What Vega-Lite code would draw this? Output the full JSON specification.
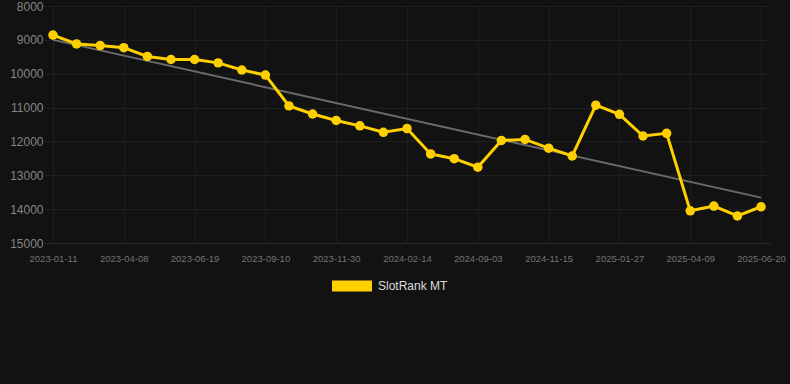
{
  "$schema": "https://vega.github.io/schema/vega-lite/v6.json",
  "autosize": {"type": "none"},
  "width": 726,
  "height": 237,
  "padding": {"left": 44, "top": 6, "right": 20, "bottom": 141},
  "background": "#121212",
  "config": {
    "view": {"stroke": null},
    "font": "Liberation Sans",
    "axis": {"gridColor": "#1e1e1e", "gridWidth": 1, "domain": false, "ticks": false}
  },
  "datasets": {
    "rank": [
      {"date": "2023-01-11", "rank": 8860},
      {"date": "2023-02-11", "rank": 9120},
      {"date": "2023-03-11", "rank": 9170},
      {"date": "2023-04-08", "rank": 9230},
      {"date": "2023-05-02", "rank": 9490},
      {"date": "2023-05-26", "rank": 9580},
      {"date": "2023-06-19", "rank": 9580},
      {"date": "2023-07-16", "rank": 9680},
      {"date": "2023-08-13", "rank": 9890},
      {"date": "2023-09-10", "rank": 10040},
      {"date": "2023-10-07", "rank": 10950},
      {"date": "2023-11-02", "rank": 11190},
      {"date": "2023-11-30", "rank": 11380},
      {"date": "2023-12-25", "rank": 11540},
      {"date": "2024-01-20", "rank": 11730},
      {"date": "2024-02-14", "rank": 11620},
      {"date": "2024-04-15", "rank": 12370},
      {"date": "2024-07-01", "rank": 12510},
      {"date": "2024-09-03", "rank": 12760},
      {"date": "2024-09-27", "rank": 11970},
      {"date": "2024-10-21", "rank": 11940},
      {"date": "2024-11-15", "rank": 12200},
      {"date": "2024-12-10", "rank": 12430},
      {"date": "2025-01-03", "rank": 10930},
      {"date": "2025-01-27", "rank": 11200},
      {"date": "2025-02-20", "rank": 11840},
      {"date": "2025-03-16", "rank": 11760},
      {"date": "2025-04-09", "rank": 14050},
      {"date": "2025-05-03", "rank": 13910},
      {"date": "2025-05-27", "rank": 14200},
      {"date": "2025-06-20", "rank": 13930}
    ],
    "trend": [
      {"date": "2023-01-11", "rank": 9000},
      {"date": "2025-06-20", "rank": 13660}
    ]
  },
  "encoding": {
    "x": {
      "field": "date", "type": "ordinal",
      "scale": {"type": "point", "padding": 0.38, "domain": ["2023-01-11","2023-02-11","2023-03-11","2023-04-08","2023-05-02","2023-05-26","2023-06-19","2023-07-16","2023-08-13","2023-09-10","2023-10-07","2023-11-02","2023-11-30","2023-12-25","2024-01-20","2024-02-14","2024-04-15","2024-07-01","2024-09-03","2024-09-27","2024-10-21","2024-11-15","2024-12-10","2025-01-03","2025-01-27","2025-02-20","2025-03-16","2025-04-09","2025-05-03","2025-05-27","2025-06-20"]},
      "sort": null,
      "axis": {
        "title": null,
        "labelAngle": 0,
        "values": ["2023-01-11", "2023-04-08", "2023-06-19", "2023-09-10", "2023-11-30", "2024-02-14", "2024-09-03", "2024-11-15", "2025-01-27", "2025-04-09", "2025-06-20"],
        "labelColor": "#727272",
        "labelFontSize": 9.5,
        "labelPadding": 10,
        "grid": true
      }
    },
    "y": {
      "field": "rank", "type": "quantitative",
      "scale": {"domain": [8000, 15000], "reverse": true, "nice": false},
      "axis": {
        "title": null,
        "format": "d",
        "values": [8000, 9000, 10000, 11000, 12000, 13000, 14000, 15000],
        "labelColor": "#858585",
        "labelFontSize": 12,
        "labelPadding": 1,
        "grid": true,
        "gridColor": {"condition": {"test": "datum.value === 15000", "value": "#2a2a2a"}, "value": "#1e1e1e"}
      }
    }
  },
  "layer": [
    {
      "data": {"name": "trend"},
      "mark": {"type": "line", "color": "#6b6b6b", "strokeWidth": 2},
      "encoding": {}
    },
    {
      "data": {"name": "rank"},
      "mark": {"type": "line", "strokeWidth": 3},
      "encoding": {
        "color": {"datum": "SlotRank MT", "type": "nominal", "scale": {"domain": ["SlotRank MT"], "range": ["#FFD000"]},
          "legend": {
            "title": null,
            "orient": "none",
            "legendX": 288,
            "legendY": 260,
            "symbolType": "M-1,-0.275L1,-0.275L1,0.275L-1,0.275Z",
            "symbolSize": 1600,
            "symbolStrokeWidth": 0,
            "symbolOpacity": 1,
            "labelColor": "#dddddd",
            "labelFontSize": 12,
            "labelOffset": 6,
            "padding": 0,
            "encode": {"symbols": {"update": {"fill": {"value": "#FFD000"}, "stroke": {"value": "#FFD000"}, "strokeWidth": {"value": 0}}}}
          }
        }
      }
    },
    {
      "data": {"name": "rank"},
      "mark": {"type": "point", "filled": true, "size": 90, "opacity": 1, "color": "#FFD000"},
      "encoding": {}
    }
  ]
}
